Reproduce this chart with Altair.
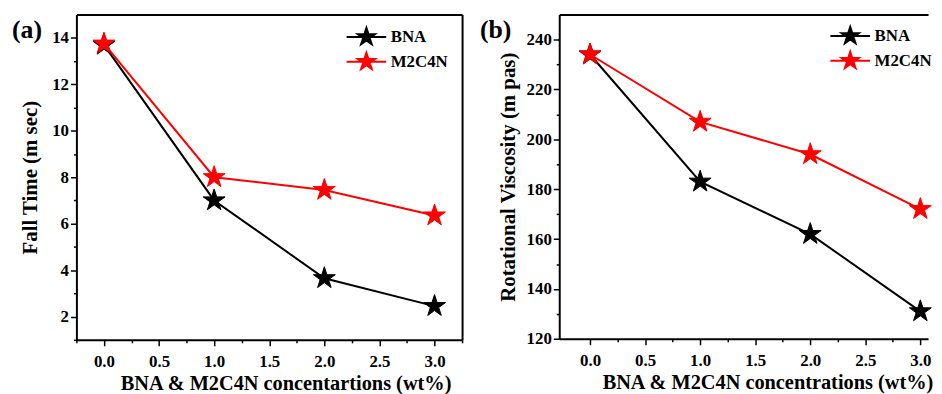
import altair as alt
import pandas as pd

conc = [0.0, 1.0, 2.0, 3.0]
series_names = ["BNA", "M2C4N"]
colors = ["#000000", "#ff0000"]

fall_bna = [13.7, 7.0, 3.65, 2.45]
fall_m2c4n = [13.75, 8.0, 7.45, 6.35]
visc_bna = [234, 183, 162, 131]
visc_m2c4n = [234, 207, 194, 172]

x_ticks_a = [-0.25, 0.0, 0.25, 0.5, 0.75, 1.0, 1.25, 1.5, 1.75, 2.0, 2.25, 2.5, 2.75, 3.0, 3.25]
x_ticks_b = [0.0, 0.25, 0.5, 0.75, 1.0, 1.25, 1.5, 1.75, 2.0, 2.25, 2.5, 2.75, 3.0]
y_ticks_a = [1, 2, 3, 4, 5, 6, 7, 8, 9, 10, 11, 12, 13, 14]
y_ticks_b = [120, 130, 140, 150, 160, 170, 180, 190, 200, 210, 220, 230, 240]

FONT = "Liberation Serif"
STAR = ("M0,-1L0.2245,-0.309L0.9511,-0.309L0.3633,0.118L0.5878,0.809"
        "L0,0.382L-0.5878,0.809L-0.3633,0.118L-0.9511,-0.309L-0.2245,-0.309Z")
LEG = "M-2.2,0L2.2,0" + STAR


def make_df(a, b):
    rows = []
    for s, vals in zip(series_names, [a, b]):
        for c, v in zip(conc, vals):
            rows.append({"conc": c, "val": v, "series": s})
    return pd.DataFrame(rows)


def panel(df, ytitle, xtitle, xdom, ydom, xvals, yvals, xstep, ystep, w, h,
          label, dx, ytpad, xtx, legx, legy, right_axis):
    xlab = f"datum.value % {xstep} === 0 ? format(datum.value, '.1f') : ''"
    ylab = f"datum.value % {ystep} === 0 ? format(datum.value, 'd') : ''"
    xdash = {"condition": {"test": f"datum.value % {xstep} !== 0", "value": [3, 20]},
             "value": [1, 0]}
    ydash = {"condition": {"test": f"datum.value % {ystep} !== 0", "value": [3, 20]},
             "value": [1, 0]}
    xscale = alt.Scale(domain=xdom, nice=False, zero=False)
    yscale = alt.Scale(domain=ydom, nice=False, zero=False)
    leg = alt.Legend(title=None, orient="none", legendX=legx, legendY=legy)
    cscale = alt.Scale(domain=series_names, range=colors)

    line = alt.Chart(df).mark_line(strokeWidth=2).encode(
        x=alt.X("conc:Q", scale=xscale,
                axis=alt.Axis(orient="bottom", values=xvals, labelExpr=xlab,
                              tickDash=xdash, title=xtitle, titleFontSize=20.5,
                              labelPadding=8, titlePadding=4, titleX=xtx)),
        y=alt.Y("val:Q", scale=yscale,
                axis=alt.Axis(orient="left", values=yvals, labelExpr=ylab,
                              tickDash=ydash, title=ytitle, titleFontSize=21,
                              labelPadding=2, titlePadding=ytpad)),
        stroke=alt.Stroke("series:N", scale=cscale, legend=leg),
        order=alt.Order("conc:Q"),
    )
    pts = alt.Chart(df).mark_point(shape=STAR, size=540, filled=True, opacity=1,
                                   strokeWidth=1).encode(
        x=alt.X("conc:Q", scale=xscale,
                axis=alt.Axis(orient="top", labels=False, ticks=False, title=None)),
        y=alt.Y("val:Q", scale=yscale,
                axis=(alt.Axis(orient="right", labels=False, ticks=False, title=None)
                      if right_axis else None)),
        fill=alt.Fill("series:N", scale=cscale, legend=leg),
        stroke=alt.Stroke("series:N", scale=cscale, legend=leg),
    )
    tag = alt.Chart(pd.DataFrame({"t": [label]})).mark_text(
        align="left", baseline="alphabetic", font=FONT, fontSize=26,
        fontWeight="bold", color="black",
    ).encode(text="t:N", x=alt.value(dx), y=alt.value(24))
    return alt.layer(line, pts, tag).resolve_axis(
        x="independent", y="independent").properties(width=w, height=h)


pa = panel(make_df(fall_bna, fall_m2c4n), "Fall Time (m sec)",
           "BNA & M2C4N concentartions (wt%)", [-0.25, 3.25], [1, 15],
           x_ticks_a, y_ticks_a, 0.5, 2, 389, 328, "(a)", -65, 11, 211, 282, 12, True)
pb = panel(make_df(visc_bna, visc_m2c4n), "Rotational Viscosity (m pas)",
           "BNA & M2C4N concentrations (wt%)", [-0.28, 3.07], [120, 250],
           x_ticks_b, y_ticks_b, 0.5, 20, 372, 327, "(b)", -80, 8, 210, 283, 11, False)

chart = alt.hconcat(pa, pb, spacing=17).resolve_scale(
    stroke="independent", fill="independent"
).resolve_legend(stroke="independent", fill="independent").properties(
    padding={"left": 4, "top": 5, "right": 0, "bottom": 0}
).configure_view(stroke=None).configure_axis(
    labelFont=FONT, labelFontSize=17, labelFontWeight="bold", labelColor="black",
    titleFont=FONT, titleFontWeight="bold", titleColor="black",
    domainColor="black", domainWidth=2, tickColor="black", tickWidth=1.5,
    tickSize=6, grid=False, labelFlush=False, labelOverlap=False,
).configure_legend(
    labelFont=FONT, labelFontSize=17, labelFontWeight="bold", labelColor="black",
    symbolType=LEG, symbolSize=330, symbolStrokeWidth=2, symbolOpacity=1,
    labelOffset=14, rowPadding=0, padding=0,
)

chart.save("out.html", embed_options={"renderer": "svg", "actions": False})
